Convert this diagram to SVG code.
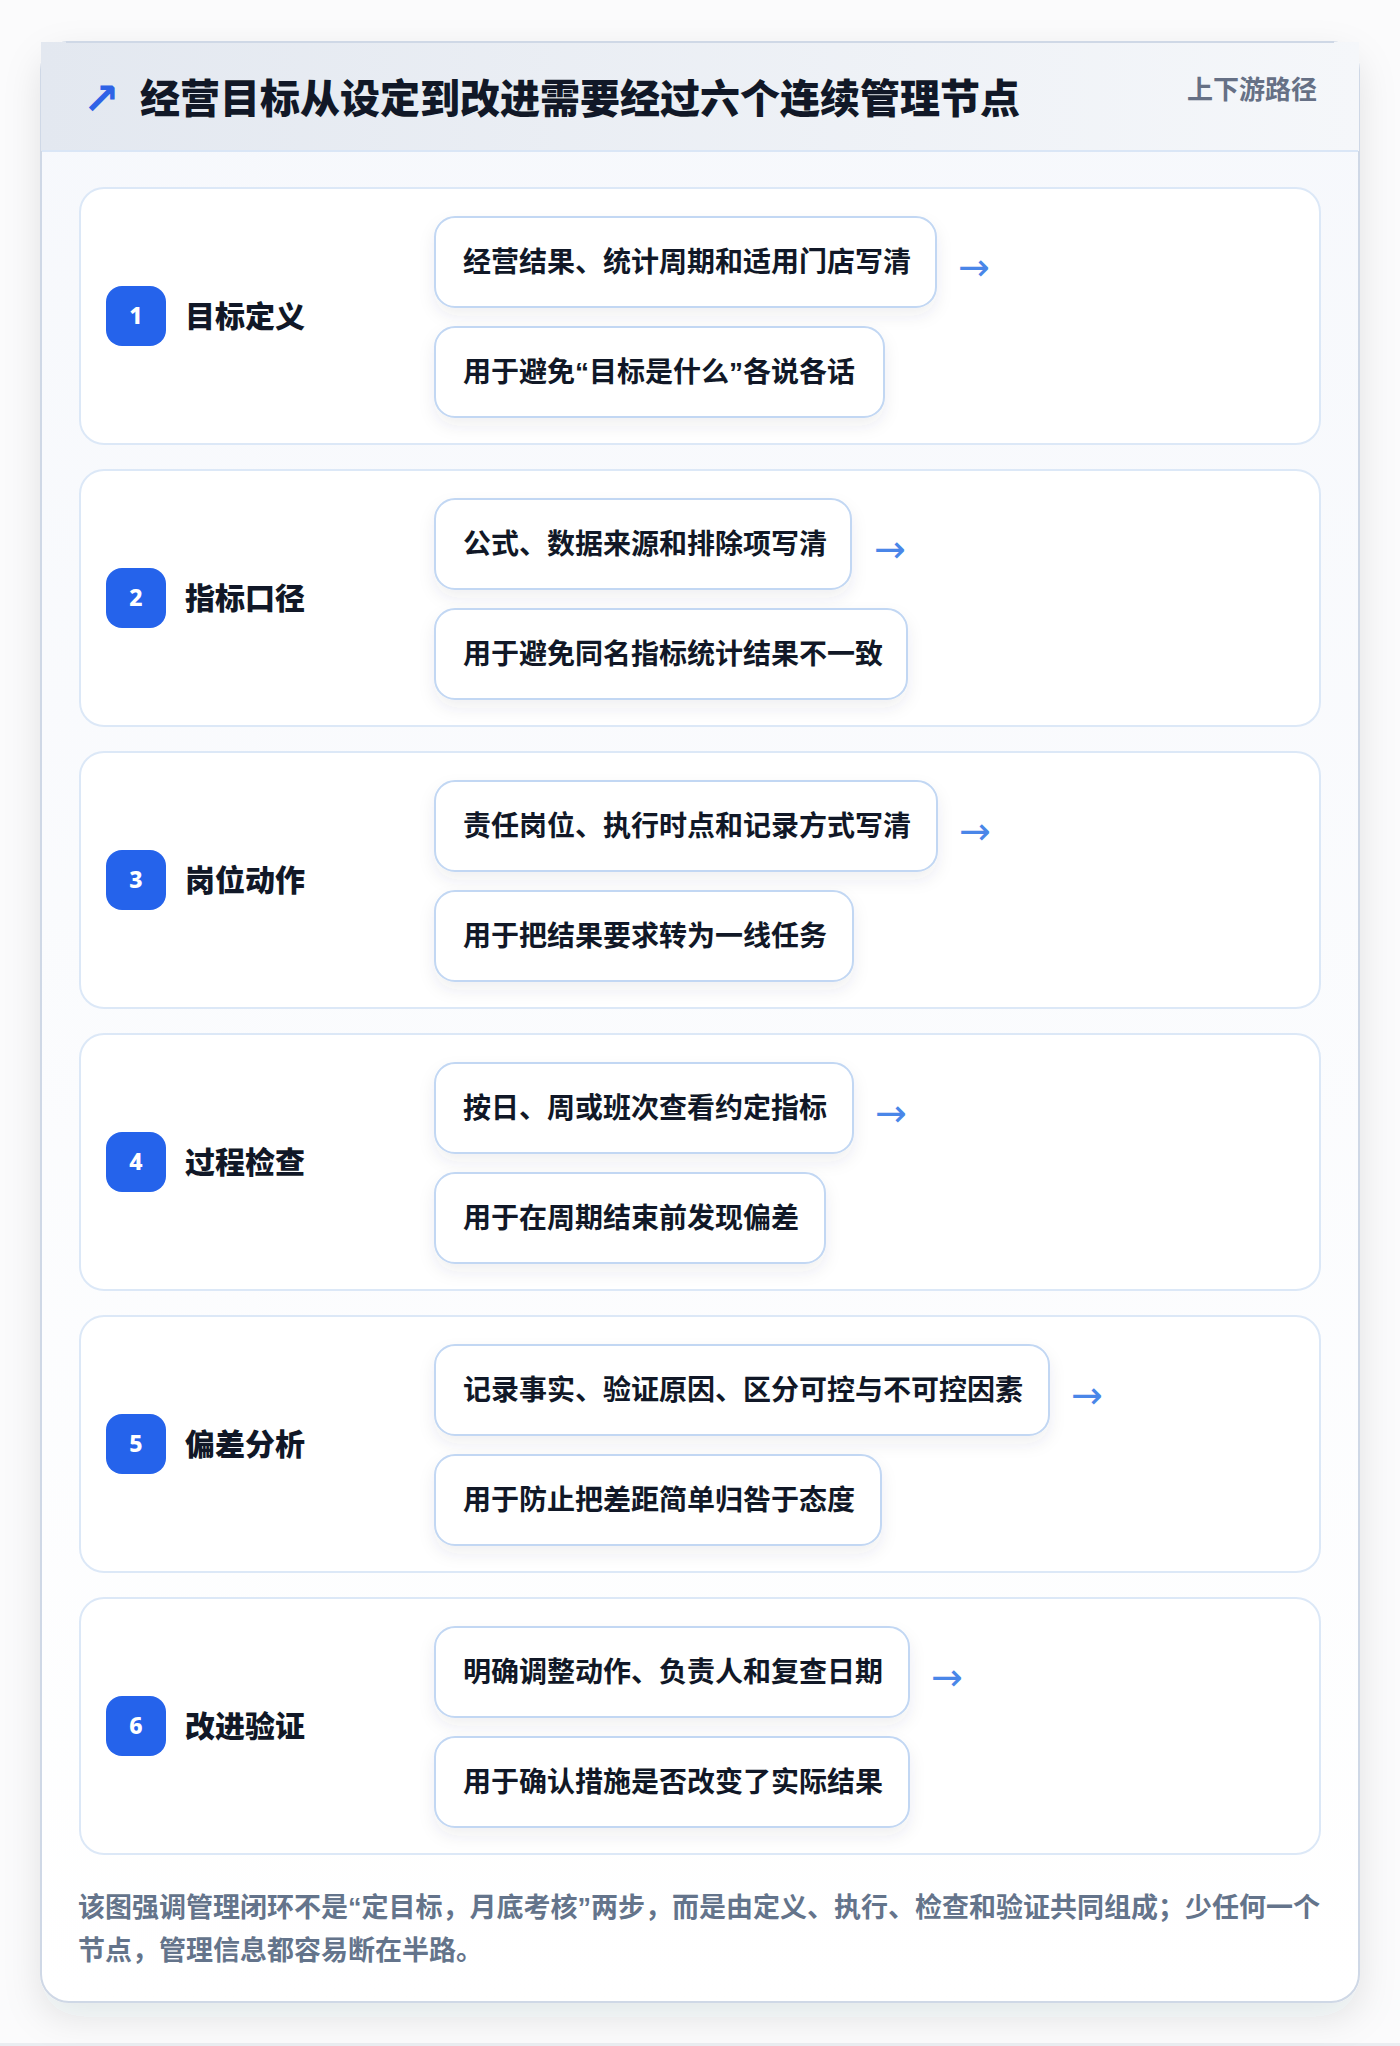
<svg xmlns="http://www.w3.org/2000/svg" width="1400" height="2046" viewBox="0 0 1400 2046">
  <defs>
    <linearGradient id="hdr" x1="0" y1="0" x2="1" y2="0">
      <stop offset="0" stop-color="#e3e8f0"/>
      <stop offset="1" stop-color="#f5f7fa"/>
    </linearGradient>
    <linearGradient id="body" x1="0" y1="0" x2="0" y2="1">
      <stop offset="0" stop-color="#f6f8fc"/>
      <stop offset="1" stop-color="#ffffff"/>
    </linearGradient>
    <filter id="cardShadow" x="-10%" y="-10%" width="120%" height="120%">
      <feDropShadow dx="0" dy="14" stdDeviation="18" flood-color="#1e293b" flood-opacity="0.10"/>
    </filter>
    <filter id="boxShadow" x="-10%" y="-20%" width="120%" height="160%">
      <feDropShadow dx="0" dy="8" stdDeviation="8" flood-color="#334155" flood-opacity="0.08"/>
    </filter>
    <style>
      .cjk { font-family: "Liberation Sans", "Noto Sans CJK SC", sans-serif; font-weight: 700; }
      .title { font-size: 40px; fill: #111827; font-weight: 800; }
      .tag { font-size: 26px; fill: #667085; }
      .row { fill: #ffffff; stroke: #dce8f7; stroke-width: 2; }
      .box { fill: #ffffff; stroke: #c2d7f3; stroke-width: 2; filter: url(#boxShadow); }
      .boxtxt { font-size: 28px; fill: #111827; }
      .badge { fill: #2563eb; }
      .num { font-family: "Noto Sans", "DejaVu Sans", sans-serif; font-size: 23px; font-weight: 800; fill: #ffffff; text-anchor: middle; }
      .label { font-size: 30px; fill: #111827; font-weight: 800; }
      .arrow { font-family: "DejaVu Sans", sans-serif; font-size: 38px; fill: #4a86e8; }
      .foot { font-size: 27px; fill: #64748b; }
    </style>
  </defs>

  <rect x="0" y="0" width="1400" height="2046" fill="#fbfbfc"/>
  <rect x="0" y="2043" width="1400" height="3" fill="#eaedf1"/>

  <g id="card">
    <rect x="41" y="42" width="1318" height="1960" rx="28" fill="url(#body)" stroke="#cfd8e6" stroke-width="2" filter="url(#cardShadow)"/>
    <rect x="41" y="42" width="1318" height="109" fill="url(#hdr)"/>
    <line x1="66" y1="42" x2="1334" y2="42" stroke="#cfd8e6" stroke-width="2"/>
    <line x1="42" y1="151" x2="1358" y2="151" stroke="#dae6f6" stroke-width="2"/>
    <text x="83" y="114" font-family="DejaVu Sans, sans-serif" font-size="44" font-weight="700" fill="#2f63e6">↗</text>
    <text class="cjk title" x="140" y="113">经营目标从设定到改进需要经过六个连续管理节点</text>
    <text class="cjk tag" x="1317" y="99" text-anchor="end">上下游路径</text>
  </g>

  <g id="node-1">
    <rect class="row" x="80" y="188" width="1240" height="256" rx="24"/>
    <rect class="badge" x="106" y="286" width="60" height="60" rx="16"/>
    <text class="num" x="136" y="324">1</text>
    <text class="cjk label" x="185" y="327">目标定义</text>
    <rect class="box" x="435" y="217" width="501" height="90" rx="20"/>
    <text class="cjk boxtxt" x="463" y="272">经营结果、统计周期和适用门店写清</text>
    <rect class="box" x="435" y="327" width="449" height="90" rx="20"/>
    <text class="cjk boxtxt" x="463" y="382">用于避免“目标是什么”各说各话</text>
  </g>

  <g id="node-2">
    <rect class="row" x="80" y="470" width="1240" height="256" rx="24"/>
    <rect class="badge" x="106" y="568" width="60" height="60" rx="16"/>
    <text class="num" x="136" y="606">2</text>
    <text class="cjk label" x="185" y="609">指标口径</text>
    <rect class="box" x="435" y="499" width="416" height="90" rx="20"/>
    <text class="cjk boxtxt" x="463" y="554">公式、数据来源和排除项写清</text>
    <rect class="box" x="435" y="609" width="472" height="90" rx="20"/>
    <text class="cjk boxtxt" x="463" y="664">用于避免同名指标统计结果不一致</text>
  </g>

  <g id="node-3">
    <rect class="row" x="80" y="752" width="1240" height="256" rx="24"/>
    <rect class="badge" x="106" y="850" width="60" height="60" rx="16"/>
    <text class="num" x="136" y="888">3</text>
    <text class="cjk label" x="185" y="891">岗位动作</text>
    <rect class="box" x="435" y="781" width="502" height="90" rx="20"/>
    <text class="cjk boxtxt" x="463" y="836">责任岗位、执行时点和记录方式写清</text>
    <rect class="box" x="435" y="891" width="418" height="90" rx="20"/>
    <text class="cjk boxtxt" x="463" y="946">用于把结果要求转为一线任务</text>
  </g>

  <g id="node-4">
    <rect class="row" x="80" y="1034" width="1240" height="256" rx="24"/>
    <rect class="badge" x="106" y="1132" width="60" height="60" rx="16"/>
    <text class="num" x="136" y="1170">4</text>
    <text class="cjk label" x="185" y="1173">过程检查</text>
    <rect class="box" x="435" y="1063" width="418" height="90" rx="20"/>
    <text class="cjk boxtxt" x="463" y="1118">按日、周或班次查看约定指标</text>
    <rect class="box" x="435" y="1173" width="390" height="90" rx="20"/>
    <text class="cjk boxtxt" x="463" y="1228">用于在周期结束前发现偏差</text>
  </g>

  <g id="node-5">
    <rect class="row" x="80" y="1316" width="1240" height="256" rx="24"/>
    <rect class="badge" x="106" y="1414" width="60" height="60" rx="16"/>
    <text class="num" x="136" y="1452">5</text>
    <text class="cjk label" x="185" y="1455">偏差分析</text>
    <rect class="box" x="435" y="1345" width="614" height="90" rx="20"/>
    <text class="cjk boxtxt" x="463" y="1400">记录事实、验证原因、区分可控与不可控因素</text>
    <rect class="box" x="435" y="1455" width="446" height="90" rx="20"/>
    <text class="cjk boxtxt" x="463" y="1510">用于防止把差距简单归咎于态度</text>
  </g>

  <g id="node-6">
    <rect class="row" x="80" y="1598" width="1240" height="256" rx="24"/>
    <rect class="badge" x="106" y="1696" width="60" height="60" rx="16"/>
    <text class="num" x="136" y="1734">6</text>
    <text class="cjk label" x="185" y="1737">改进验证</text>
    <rect class="box" x="435" y="1627" width="474" height="90" rx="20"/>
    <text class="cjk boxtxt" x="463" y="1682">明确调整动作、负责人和复查日期</text>
    <rect class="box" x="435" y="1737" width="474" height="90" rx="20"/>
    <text class="cjk boxtxt" x="463" y="1792">用于确认措施是否改变了实际结果</text>
  </g>

  <g id="connectors">
    <text class="arrow" x="958" y="280">→</text>
    <text class="arrow" x="874" y="562">→</text>
    <text class="arrow" x="959" y="844">→</text>
    <text class="arrow" x="875" y="1126">→</text>
    <text class="arrow" x="1071" y="1408">→</text>
    <text class="arrow" x="931" y="1690">→</text>
  </g>

  <g id="footer">
    <text class="cjk foot" x="78" y="1917">该图强调管理闭环不是“定目标，月底考核”两步，而是由定义、执行、检查和验证共同组成；少任何一个</text>
    <text class="cjk foot" x="78" y="1960">节点，管理信息都容易断在半路。</text>
  </g>
</svg>
